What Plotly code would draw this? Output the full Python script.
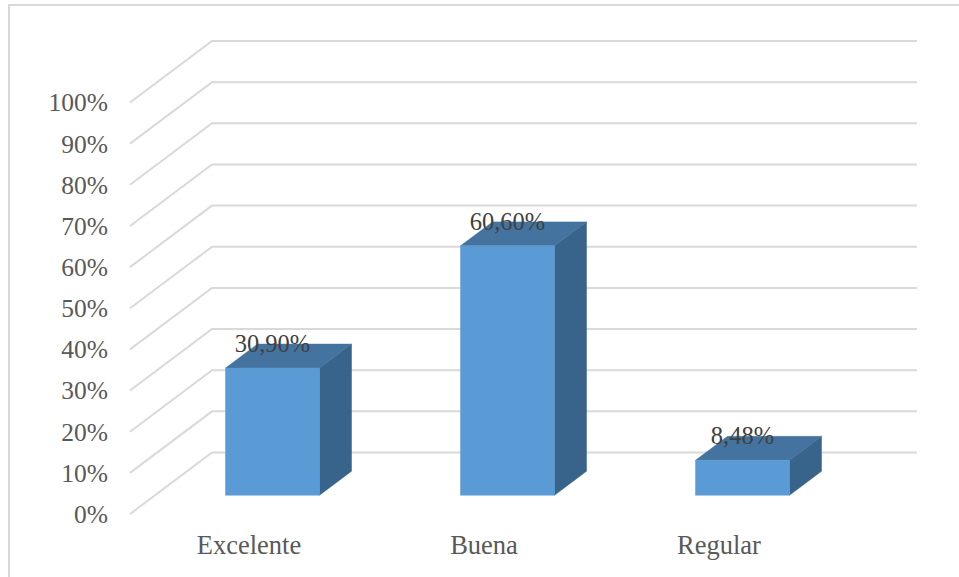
import plotly.graph_objects as go

# Survey results
categories = ["Excelente", "Buena", "Regular"]
values = [30.90, 60.60, 8.48]
value_labels = ["30,90%", "60,60%", "8,48%"]
y_ticks = [0, 10, 20, 30, 40, 50, 60, 70, 80, 90, 100]
y_tick_labels = ["0%", "10%", "20%", "30%", "40%", "50%", "60%", "70%", "80%", "90%", "100%"]

WIDTH, HEIGHT = 959, 577
PLOT_L, PLOT_R, PLOT_T, PLOT_B = 128, 917, 36, 516
PX_PER_CAT, PX_PER_PCT = 235.0, 4.115
ZERO_X_PX, ZERO_Y_PX = 247.5, 514.0

# Oblique projection: depth 0 is the front plane, depth 1 the back wall
WALL_DX = 82 / PX_PER_CAT
WALL_DY = 61.5 / PX_PER_PCT
BAR_HALF = 47 / PX_PER_CAT
DEPTH_NEAR, DEPTH_FAR = 0.305, 0.695

# Nudges for the text so it sits just right on the boxes and below the floor
LABEL_DROP = 1.5 / PX_PER_PCT
CAT_TEXT_SHIFT = 1.5 / PX_PER_CAT

GRID = "#d9d9d9"
FRONT, TOP, SIDE = "#5b9bd5", "#44739f", "#38638a"


def project(cat, value, depth):
    return cat + WALL_DX * depth, value + WALL_DY * depth


def polygon(corners, color):
    pts = [project(*c) for c in corners]
    pts.append(pts[0])
    return go.Scatter(
        x=[p[0] for p in pts], y=[p[1] for p in pts],
        mode="lines", fill="toself", fillcolor=color,
        line=dict(color=color, width=0.5),
        hoverinfo="skip", showlegend=False,
    )


fig = go.Figure()

# Side wall and back wall gridlines
n = len(categories)
for v in y_ticks:
    pts = [project(-0.5, v, 0), project(-0.5, v, 1), project(n - 0.5, v, 1)]
    fig.add_trace(go.Scatter(
        x=[p[0] for p in pts], y=[p[1] for p in pts], mode="lines",
        line=dict(color=GRID, width=2), hoverinfo="skip", showlegend=False,
    ))

# Box faces for every bar
for i, v in enumerate(values):
    l, r = i - BAR_HALF, i + BAR_HALF
    n_d, f_d = DEPTH_NEAR, DEPTH_FAR
    fig.add_trace(polygon([(r, 0, n_d), (r, 0, f_d), (r, v, f_d), (r, v, n_d)], SIDE))
    fig.add_trace(polygon([(l, v, n_d), (r, v, n_d), (r, v, f_d), (l, v, f_d)], TOP))
    fig.add_trace(polygon([(l, 0, n_d), (r, 0, n_d), (r, v, n_d), (l, v, n_d)], FRONT))

# Value labels sit on the back edge of each box top
label_pts = [project(i, v, DEPTH_FAR) for i, v in enumerate(values)]
fig.add_trace(go.Scatter(
    x=[i + WALL_DX * DEPTH_NEAR for i in range(n)],
    y=[p[1] - LABEL_DROP for p in label_pts],
    mode="text", text=value_labels, textposition="middle center",
    textfont=dict(family="Liberation Serif", size=24.5, color="#404040"),
    cliponaxis=False, hoverinfo="skip", showlegend=False,
))

plot_w = PLOT_R - PLOT_L
plot_h = PLOT_B - PLOT_T


def paper_x(px):
    return (px - PLOT_L) / plot_w


def paper_y(px):
    return (PLOT_B - px) / plot_h


# Chart frame: left and top edges
frame = dict(color="#d9d9d9", width=2)
shapes = [
    dict(type="line", xref="paper", yref="paper", x0=paper_x(9), x1=paper_x(9),
         y0=paper_y(5), y1=paper_y(HEIGHT), line=frame),
    dict(type="line", xref="paper", yref="paper", x0=paper_x(8), x1=paper_x(WIDTH),
         y0=paper_y(5), y1=paper_y(5), line=frame),
]

fig.update_layout(
    width=WIDTH, height=HEIGHT,
    margin=dict(l=PLOT_L, r=WIDTH - PLOT_R, t=PLOT_T, b=HEIGHT - PLOT_B, pad=0),
    paper_bgcolor="white", plot_bgcolor="white",
    shapes=shapes, showlegend=False,
    xaxis=dict(
        range=[(PLOT_L - ZERO_X_PX) / PX_PER_CAT, (PLOT_R - ZERO_X_PX) / PX_PER_CAT],
        tickmode="array", tickvals=[i + CAT_TEXT_SHIFT for i in range(n)], ticktext=categories,
        showgrid=False, zeroline=False, showline=False, automargin=False,
        ticks="outside", ticklen=5, tickcolor="rgba(0,0,0,0)",
        tickfont=dict(family="Liberation Serif", size=26.5, color="#595959"),
    ),
    yaxis=dict(
        range=[(ZERO_Y_PX - PLOT_B) / PX_PER_PCT, (ZERO_Y_PX - PLOT_T) / PX_PER_PCT],
        tickmode="array", tickvals=y_ticks, ticktext=y_tick_labels,
        showgrid=False, zeroline=False, showline=False, automargin=False,
        ticks="outside", ticklen=14, tickcolor="rgba(0,0,0,0)",
        tickfont=dict(family="Liberation Serif", size=25.5, color="#595959"),
    ),
)

fig.write_html("out.html", config=dict(displayModeBar=False))
